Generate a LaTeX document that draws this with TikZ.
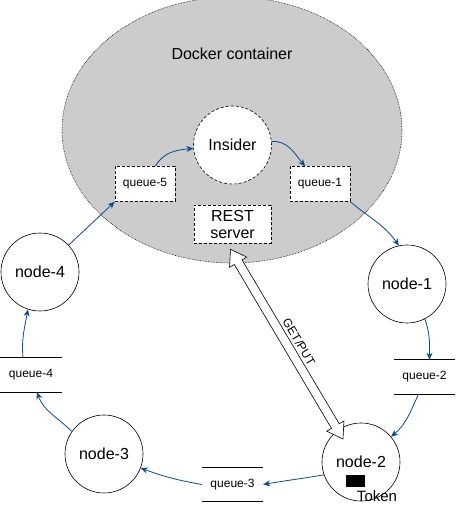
\documentclass[tikz,border=0pt]{standalone}
\usepackage{fontspec}
\setmainfont{Liberation Sans}
\usetikzlibrary{shapes.geometric,arrows.meta,calc}
\definecolor{linkblue}{HTML}{0B4A8B}
\definecolor{dockergray}{HTML}{CCCCCC}

\begin{document}
\begin{tikzpicture}[x=1pt,y=1pt,>={Stealth[length=7pt,width=6pt]},
  every node/.style={font=\fontsize{16}{18}\selectfont},
  peer/.style={circle, draw, line width=0.6pt, fill=white, minimum size=78pt, inner sep=0pt},
  inbox/.style={rectangle, draw, dash pattern=on 3pt off 2pt, line width=0.6pt, fill=white,
    minimum width=60pt, minimum height=35pt, font=\fontsize{12}{14}\selectfont},
  outbox/.style={rectangle, minimum width=61pt, minimum height=34pt, font=\fontsize{12}{14}\selectfont},
  link/.style={->, linkblue, line width=0.8pt}]
\useasboundingbox (0,0) rectangle (455,510);

% the container
\node[ellipse, draw, densely dotted, line width=0.6pt, fill=dockergray,
  minimum width=340pt, minimum height=266pt] (docker) at (232,380) {};
\node (dockerlbl) at ([yshift=-57pt]docker.north) {Docker container};

\node[peer, dash pattern=on 3pt off 2pt] (insider) at (232.5,365) {Insider};
\node[inbox] (q5) at (145,326) {queue-5};
\node[inbox] (q1) at (320,326) {queue-1};
\node[inbox, minimum width=77pt, minimum height=38pt, align=center, inner sep=1pt,
  font=\fontsize{16}{17}\selectfont] (rest) at (232.5,286) {REST\\server};

% the ring
\node[peer] (node4) at (40,238) {node-4};
\node[peer] (node1) at (407,226) {node-1};
\node[peer] (node2) at (361,48) {node-2};
\node[peer] (node3) at (104,56) {node-3};
\node[outbox] (q2) at (424.5,133) {queue-2};
\node[outbox] (q3) at (232.5,25.5) {queue-3};
\node[outbox] (q4) at (31,135) {queue-4};
\foreach \q in {q2,q3,q4}
  \draw[line width=0.6pt] (\q.north west) -- (\q.north east) (\q.south west) -- (\q.south east);

\node[fill=black, minimum width=19pt, minimum height=12pt, inner sep=0pt] (tokenbox) at (355.5,29) {};
\node[font=\fontsize{15}{17}\selectfont] (tokenlbl) at (377,14) {Token};

\draw[link] (node4) -- (q5.south west);
\draw[link] (q5) to[out=60,in=185] (insider);
\draw[link] (insider) to[out=5,in=130] (q1);
\draw[link] (q1.south east) to[out=-40,in=125] (node1.102);
\draw[link] (node1.-63) to[out=-70,in=90] ([xshift=5pt]q2.north);
\draw[link] ([xshift=-6pt]q2.south) to[out=-115,in=40] (node2.40);
\draw[link] (node2.199) to[out=190,in=10] (q3.east);
\draw[link] (q3.west) to[out=170,in=-20] (node3.-21);
\draw[link] (node3.145) to[out=135,in=-70] ([xshift=6pt]q4.south);
\draw[link] ([xshift=-8pt]q4.north) to[out=95,in=-100] (node4.-108);

% GET/PUT block arrow
\coordinate (gp-a) at ([shift={(-2,-6)}]rest.south);
\coordinate (gp-b) at ([shift={(-18,23)}]node2.center);
\filldraw[fill=white, line width=0.6pt] (gp-a)
  -- ($(gp-a)!15pt!(gp-b)!10pt!90:(gp-b)$)
  -- ($(gp-a)!15pt!(gp-b)!4.5pt!90:(gp-b)$)
  -- ($(gp-b)!15pt!(gp-a)!4.5pt!-90:(gp-a)$)
  -- ($(gp-b)!15pt!(gp-a)!10pt!-90:(gp-a)$)
  -- (gp-b)
  -- ($(gp-b)!15pt!(gp-a)!10pt!90:(gp-a)$)
  -- ($(gp-b)!15pt!(gp-a)!4.5pt!90:(gp-a)$)
  -- ($(gp-a)!15pt!(gp-b)!4.5pt!-90:(gp-b)$)
  -- ($(gp-a)!15pt!(gp-b)!10pt!-90:(gp-b)$)
  -- cycle;
\path (gp-a) -- node[sloped, pos=0.52, above=6pt, inner sep=1pt, font=\fontsize{12}{14}\selectfont] (gplbl) {GET/PUT} (gp-b);
\end{tikzpicture}
\end{document}
